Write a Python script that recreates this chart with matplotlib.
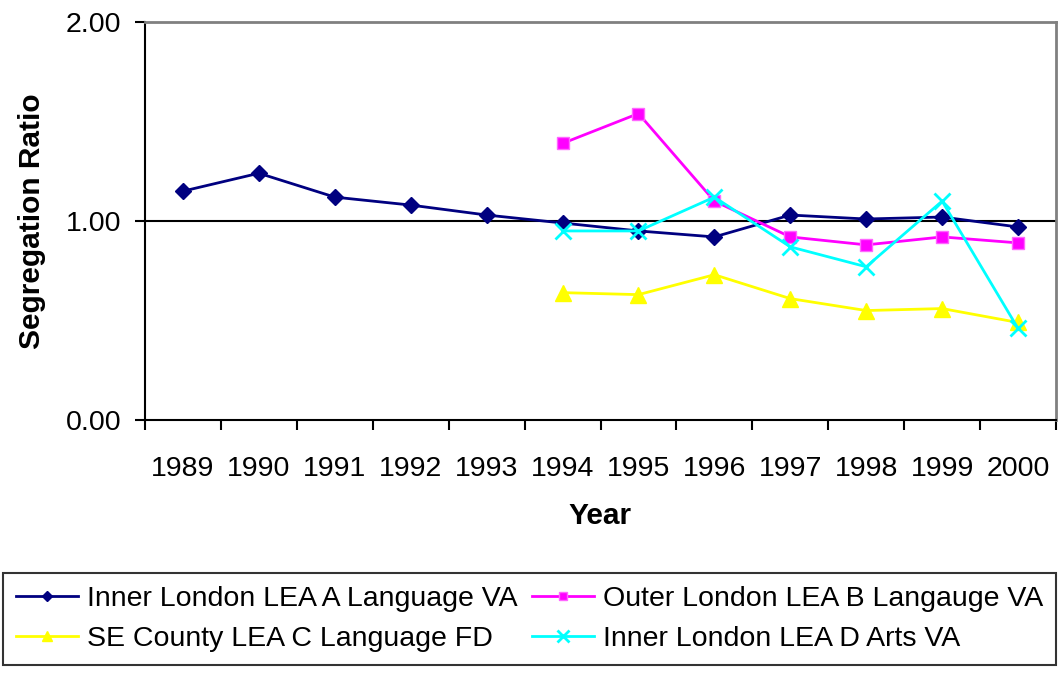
import numpy as np
import matplotlib
matplotlib.use("Agg")
import matplotlib.pyplot as plt

plt.rcParams['font.family'] = ['Liberation Sans', 'DejaVu Sans']

# data
years = ['1989', '1990', '1991', '1992', '1993', '1994', '1995', '1996', '1997', '1998', '1999', '2000']
lea_a = [1.15, 1.24, 1.12, 1.08, 1.03, 0.99, 0.95, 0.92, 1.03, 1.01, 1.02, 0.97]
lea_b = [np.nan] * 5 + [1.39, 1.54, 1.10, 0.92, 0.88, 0.92, 0.89]
lea_c = [np.nan] * 5 + [0.64, 0.63, 0.73, 0.61, 0.55, 0.56, 0.49]
lea_d = [np.nan] * 5 + [0.95, 0.95, 1.12, 0.87, 0.77, 1.10, 0.46]

labels = ['Inner London LEA A Language VA', 'Outer London LEA B Langauge VA',
          'SE County LEA C Language FD', 'Inner London LEA D Arts VA']

fig = plt.figure(figsize=(10.58, 6.75), dpi=100)
ax = fig.add_axes([145 / 1058, 1 - 420 / 675, (1056 - 145) / 1058, 398 / 675])

x = np.arange(len(years))
ax.axhline(1.0, color='black', lw=1.5, zorder=1)
la, = ax.plot(x, lea_a, color='#000080', marker='D', ms=8, lw=2, label=labels[0], zorder=3)
lb, = ax.plot(x, lea_b, color='#FF00FF', marker='s', ms=9, lw=2, mfc='#FF00FF', mec='#FF66FF',
              label=labels[1], zorder=3)
lc, = ax.plot(x, lea_c, color='#FFFF00', marker='^', ms=11, lw=2, label=labels[2], zorder=3)
ld, = ax.plot(x, lea_d, color='#00FFFF', marker='x', ms=12, mew=2, lw=2, label=labels[3], zorder=4)

ax.set_xlim(-0.5, len(years) - 0.5)
ax.set_ylim(0, 2)
ax.set_yticks([0, 1, 2])
ax.set_yticklabels(['0.00', '1.00', '2.00'])
ax.set_xticks(np.arange(-0.5, len(years), 1))
ax.set_xticklabels([])
ax.set_xticks(x, minor=True)
ax.set_xticklabels(years, minor=True)
ax.tick_params(axis='x', which='minor', length=0, pad=26, labelsize=20.5)
ax.tick_params(axis='x', which='major', direction='out', length=7, width=1.5)
ax.tick_params(axis='y', direction='out', length=7, width=1.5, labelsize=20.5, pad=10)

for s in ['left', 'bottom']:
    ax.spines[s].set_linewidth(1.5)
for s in ['top', 'right']:
    ax.spines[s].set_color('#808080')
    ax.spines[s].set_linewidth(2)

ax.set_xlabel('Year', fontsize=21.5, fontweight='bold', labelpad=14)
ax.set_ylabel('Segregation Ratio', fontsize=21.5, fontweight='bold', labelpad=14)

# row-wise order: A, B on first row, C, D on second
leg = fig.legend(handles=[la, lc, lb, ld], loc='lower left',
                 bbox_to_anchor=(3 / 1058, 1 - 665 / 675, 1053 / 1058, 95 / 675),
                 mode='expand', ncol=2, fontsize=20.5, frameon=True, fancybox=False,
                 edgecolor='black', handlelength=2.2, handletextpad=0.3,
                 columnspacing=0.3, borderaxespad=0, borderpad=0.45,
                 labelspacing=0.5, markerscale=0.7)
leg.get_frame().set_linewidth(1.5)

fig.savefig('out.png', dpi=100)
